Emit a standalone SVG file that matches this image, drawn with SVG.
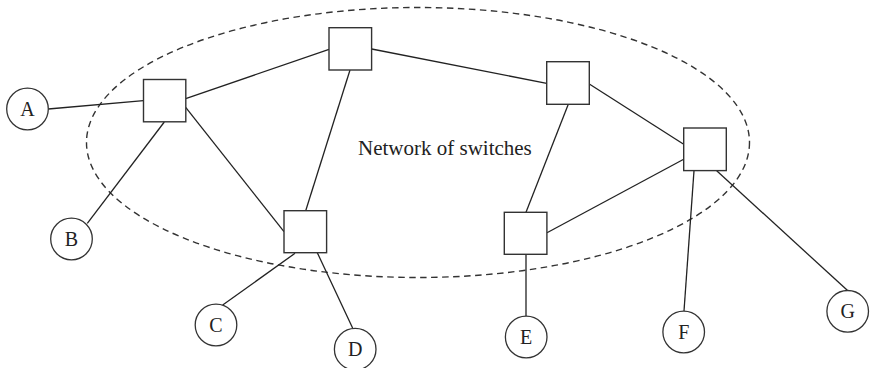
<svg xmlns="http://www.w3.org/2000/svg" width="870" height="368" viewBox="0 0 870 368">
<style>
.sw{fill:#fff;stroke:#333;stroke-width:1.4}
.host{fill:#fff;stroke:#333;stroke-width:1.3}
.lbl{font-family:"Liberation Serif","Times New Roman",serif;font-size:20px;fill:#222;text-anchor:middle}
.cn line{stroke:#222;stroke-width:1.3}
.cloud{fill:none;stroke:#333;stroke-width:1.4;stroke-dasharray:6.5 4.5}
</style>
<rect width="870" height="368" fill="#fff"/>
<ellipse class="cloud" cx="418" cy="142.5" rx="331.5" ry="135"/>
<text x="358" y="155" font-family="Liberation Serif, Times New Roman, serif" font-size="21" fill="#222">Network of switches</text>
<g id="connectors" class="cn">
<line x1="48.3" y1="109" x2="143.5" y2="100.7"/>
<line x1="185.7" y1="98.7" x2="329" y2="49.3"/>
<line x1="164.3" y1="122" x2="87.3" y2="223.3"/>
<line x1="185.7" y1="107.3" x2="284" y2="231.7"/>
<line x1="371.7" y1="49" x2="546.7" y2="83.3"/>
<line x1="350" y1="70" x2="305.7" y2="210.7"/>
<line x1="568.3" y1="104.3" x2="526" y2="212.3"/>
<line x1="589.3" y1="84" x2="683.7" y2="144.3"/>
<line x1="547" y1="232.7" x2="683.7" y2="159.3"/>
<line x1="694" y1="170.7" x2="684" y2="311"/>
<line x1="716.7" y1="170.7" x2="847.3" y2="290.3"/>
<line x1="295" y1="253.3" x2="222.7" y2="305"/>
<line x1="317.3" y1="252.7" x2="352.7" y2="328.3"/>
<line x1="526" y1="254.3" x2="526" y2="316"/>
</g>
<g id="s1"><rect class="sw" x="143.5" y="79.5" width="42.3" height="42.3"/></g>
<g id="s2"><rect class="sw" x="329" y="27.7" width="42.6" height="42.3"/></g>
<g id="s3"><rect class="sw" x="546.7" y="61.7" width="42.6" height="42.6"/></g>
<g id="s4"><rect class="sw" x="683.7" y="128" width="42.6" height="42.6"/></g>
<g id="s5"><rect class="sw" x="284" y="210.7" width="42.6" height="42"/></g>
<g id="s6"><rect class="sw" x="504.3" y="212.3" width="42.6" height="42"/></g>
<g id="A"><circle class="host" cx="27.5" cy="109" r="20.8"/><text class="lbl" x="27.5" y="115.5">A</text></g>
<g id="B"><circle class="host" cx="71.5" cy="239" r="20.8"/><text class="lbl" x="71.5" y="245.5">B</text></g>
<g id="C"><circle class="host" cx="216" cy="325" r="20.8"/><text class="lbl" x="216" y="331.5">C</text></g>
<g id="D"><circle class="host" cx="355.2" cy="349.2" r="20.8"/><text class="lbl" x="355.2" y="355.7">D</text></g>
<g id="E"><circle class="host" cx="526.2" cy="337" r="20.8"/><text class="lbl" x="526.2" y="343.5">E</text></g>
<g id="F"><circle class="host" cx="683.7" cy="332" r="20.8"/><text class="lbl" x="683.7" y="338.5">F</text></g>
<g id="G"><circle class="host" cx="847.7" cy="311.3" r="20.8"/><text class="lbl" x="847.7" y="317.8">G</text></g>
</svg>
